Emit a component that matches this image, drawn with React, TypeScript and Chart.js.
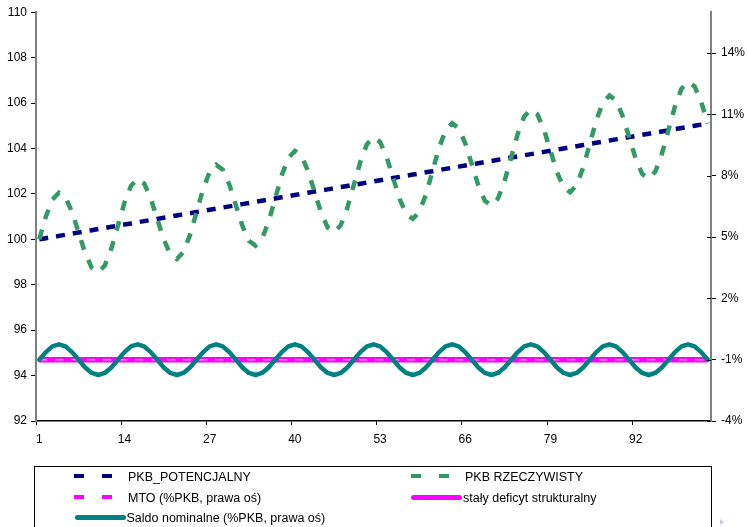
import React, { useEffect, useRef } from "react";
import { Chart, registerables } from "chart.js";

Chart.register(...registerables);

// ---------- DATA ----------
const categories = [
  1, 2, 3, 4, 5, 6, 7, 8, 9, 10,
  11, 12, 13, 14, 15, 16, 17, 18, 19, 20,
  21, 22, 23, 24, 25, 26, 27, 28, 29, 30,
  31, 32, 33, 34, 35, 36, 37, 38, 39, 40,
  41, 42, 43, 44, 45, 46, 47, 48, 49, 50,
  51, 52, 53, 54, 55, 56, 57, 58, 59, 60,
  61, 62, 63, 64, 65, 66, 67, 68, 69, 70,
  71, 72, 73, 74, 75, 76, 77, 78, 79, 80,
  81, 82, 83, 84, 85, 86, 87, 88, 89, 90,
  91, 92, 93, 94, 95, 96, 97, 98, 99, 100,
  101, 102, 103,
];
const xLabelEvery = 13;

const pkbPotencjalny = [
  100.0, 100.05, 100.1, 100.15, 100.2, 100.25, 100.3, 100.35, 100.4, 100.45,
  100.5, 100.55, 100.6, 100.65, 100.7, 100.75, 100.8, 100.85, 100.9, 100.95,
  101.0, 101.05, 101.1, 101.15, 101.2, 101.25, 101.3, 101.35, 101.4, 101.45,
  101.5, 101.55, 101.6, 101.65, 101.7, 101.75, 101.8, 101.85, 101.9, 101.95,
  102.0, 102.05, 102.1, 102.15, 102.2, 102.25, 102.3, 102.35, 102.4, 102.45,
  102.5, 102.55, 102.6, 102.65, 102.7, 102.75, 102.8, 102.85, 102.9, 102.95,
  103.0, 103.05, 103.1, 103.15, 103.2, 103.25, 103.3, 103.35, 103.4, 103.45,
  103.5, 103.55, 103.6, 103.65, 103.7, 103.75, 103.8, 103.85, 103.9, 103.95,
  104.0, 104.05, 104.1, 104.15, 104.2, 104.25, 104.3, 104.35, 104.4, 104.45,
  104.5, 104.55, 104.6, 104.65, 104.7, 104.75, 104.8, 104.85, 104.9, 104.95,
  105.0, 105.05, 105.1,
];

const pkbRzeczywisty = [
  100.0, 101.0, 101.75, 102.05, 101.85, 101.2, 100.3, 99.4, 98.75, 98.54,
  98.85, 99.59, 100.6, 101.61, 102.36, 102.66, 102.46, 101.81, 100.9, 99.99,
  99.34, 99.13, 99.44, 100.19, 101.2, 102.21, 102.97, 103.28, 103.07, 102.41,
  101.5, 100.59, 99.93, 99.72, 100.03, 100.78, 101.8, 102.82, 103.58, 103.89,
  103.68, 103.02, 102.1, 101.18, 100.52, 100.31, 100.62, 101.38, 102.4, 103.42,
  104.19, 104.5, 104.29, 103.63, 102.7, 101.77, 101.11, 100.9, 101.21, 101.97,
  103.0, 104.03, 104.8, 105.11, 104.9, 104.23, 103.3, 102.37, 101.7, 101.48,
  101.8, 102.57, 103.6, 104.64, 105.41, 105.72, 105.51, 104.84, 103.9, 102.96,
  102.29, 102.07, 102.39, 103.16, 104.2, 105.24, 106.02, 106.33, 106.12, 105.44,
  104.5, 103.56, 102.88, 102.66, 102.98, 103.76, 104.8, 105.85, 106.63, 106.94,
  106.73, 106.05, 105.1,
];

// right axis, % of GDP
const mto = [
  -1, -1, -1, -1, -1, -1, -1, -1, -1, -1,
  -1, -1, -1, -1, -1, -1, -1, -1, -1, -1,
  -1, -1, -1, -1, -1, -1, -1, -1, -1, -1,
  -1, -1, -1, -1, -1, -1, -1, -1, -1, -1,
  -1, -1, -1, -1, -1, -1, -1, -1, -1, -1,
  -1, -1, -1, -1, -1, -1, -1, -1, -1, -1,
  -1, -1, -1, -1, -1, -1, -1, -1, -1, -1,
  -1, -1, -1, -1, -1, -1, -1, -1, -1, -1,
  -1, -1, -1, -1, -1, -1, -1, -1, -1, -1,
  -1, -1, -1, -1, -1, -1, -1, -1, -1, -1,
  -1, -1, -1,
];

const stalyDeficyt = [
  -1, -1, -1, -1, -1, -1, -1, -1, -1, -1,
  -1, -1, -1, -1, -1, -1, -1, -1, -1, -1,
  -1, -1, -1, -1, -1, -1, -1, -1, -1, -1,
  -1, -1, -1, -1, -1, -1, -1, -1, -1, -1,
  -1, -1, -1, -1, -1, -1, -1, -1, -1, -1,
  -1, -1, -1, -1, -1, -1, -1, -1, -1, -1,
  -1, -1, -1, -1, -1, -1, -1, -1, -1, -1,
  -1, -1, -1, -1, -1, -1, -1, -1, -1, -1,
  -1, -1, -1, -1, -1, -1, -1, -1, -1, -1,
  -1, -1, -1, -1, -1, -1, -1, -1, -1, -1,
  -1, -1, -1,
];

const saldoNominalne = [
  -1, -0.63, -0.35, -0.25, -0.35, -0.63, -1, -1.38, -1.65, -1.75, -1.65, -1.38,
  -1, -0.63, -0.35, -0.25, -0.35, -0.63, -1, -1.38, -1.65, -1.75, -1.65, -1.38,
  -1, -0.63, -0.35, -0.25, -0.35, -0.63, -1, -1.38, -1.65, -1.75, -1.65, -1.38,
  -1, -0.63, -0.35, -0.25, -0.35, -0.63, -1, -1.38, -1.65, -1.75, -1.65, -1.38,
  -1, -0.63, -0.35, -0.25, -0.35, -0.63, -1, -1.38, -1.65, -1.75, -1.65, -1.38,
  -1, -0.63, -0.35, -0.25, -0.35, -0.63, -1, -1.38, -1.65, -1.75, -1.65, -1.38,
  -1, -0.63, -0.35, -0.25, -0.35, -0.63, -1, -1.38, -1.65, -1.75, -1.65, -1.38,
  -1, -0.63, -0.35, -0.25, -0.35, -0.63, -1, -1.38, -1.65, -1.75, -1.65, -1.38,
  -1, -0.63, -0.35, -0.25, -0.35, -0.63, -1,
];

const leftMin = 92;
const leftMax = 110;
const leftStep = 2;
const rightMin = -4;
const rightMax = 16;
const rightTickValues = [-4, -1, 2, 5, 8, 11, 14];

const seriesNames = [
  "PKB_POTENCJALNY",
  "PKB RZECZYWISTY",
  "MTO (%PKB, prawa oś)",
  "stały deficyt strukturalny",
  "Saldo nominalne (%PKB, prawa oś)",
];

// ---------- STYLE ----------
const FONT = '"Liberation Sans", Arial, Helvetica, sans-serif';
const C_NAVY = "#000080";
const C_GREEN = "#339966";
const C_MAGENTA = "#FF00FF";
const C_MTO = "#FF9CFF";
const C_TEAL = "#008080";
const C_AXIS = "#808080";

export default function App() {
  const ref = useRef<HTMLCanvasElement>(null);

  useEffect(() => {
    if (!ref.current) return;

    const crossTicks = {
      id: "crossTicks",
      afterDraw(chart: any) {
        const s = chart.scales.y2;
        const ctx = chart.ctx;
        const right = chart.chartArea.right;
        ctx.save();
        ctx.strokeStyle = "#000";
        ctx.lineWidth = 1;
        for (const t of s.ticks) {
          const y = Math.round(s.getPixelForValue(t.value)) + 0.5;
          ctx.beginPath();
          ctx.moveTo(right - 4, y);
          ctx.lineTo(right, y);
          ctx.stroke();
        }
        ctx.restore();
      },
    };

    const chart = new Chart(ref.current, {
      type: "line",
      data: {
        labels: categories.map(String),
        datasets: [
          {
            label: seriesNames[0],
            data: pkbPotencjalny,
            yAxisID: "y",
            borderColor: C_NAVY,
            backgroundColor: C_NAVY,
            borderWidth: 4.5,
            borderDash: [9, 8],
            pointRadius: 0,
            fill: false,
            order: 4,
          },
          {
            label: seriesNames[1],
            data: pkbRzeczywisty,
            yAxisID: "y",
            borderColor: C_GREEN,
            backgroundColor: C_GREEN,
            borderWidth: 4.5,
            borderDash: [10, 11],
            pointRadius: 0,
            fill: false,
            order: 3,
          },
          {
            label: seriesNames[2],
            data: mto,
            yAxisID: "y2",
            borderColor: C_MTO,
            backgroundColor: C_MTO,
            borderWidth: 1.5,
            borderDash: [8, 8],
            pointRadius: 0,
            fill: false,
            order: 1,
          },
          {
            label: seriesNames[3],
            data: stalyDeficyt,
            yAxisID: "y2",
            borderColor: C_MAGENTA,
            backgroundColor: C_MAGENTA,
            borderWidth: 5.5,
            pointRadius: 0,
            fill: false,
            order: 2,
          },
          {
            label: seriesNames[4],
            data: saldoNominalne,
            yAxisID: "y2",
            borderColor: C_TEAL,
            backgroundColor: C_TEAL,
            borderWidth: 4.5,
            borderJoinStyle: "round",
            borderCapStyle: "round",
            pointRadius: 0,
            fill: false,
            order: 0,
          },
        ],
      },
      options: {
        responsive: false,
        animation: false,
        devicePixelRatio: 1,
        layout: { padding: { top: 12, left: 0, right: 0, bottom: 0 } },
        plugins: {
          legend: { display: false },
          tooltip: { enabled: false },
          title: { display: false },
        },
        scales: {
          x: {
            type: "category",
            offset: true,
            grid: {
              offset: true,
              drawOnChartArea: false,
              tickLength: 4,
              lineWidth: 1,
              tickColor: (c: any) =>
                c.index % xLabelEvery === 0 ? "#000" : "rgba(0,0,0,0)",
            },
            border: { color: "#000", width: 1.5 },
            ticks: {
              autoSkip: false,
              maxRotation: 0,
              minRotation: 0,
              padding: 7,
              color: "#000",
              font: { family: FONT, size: 12 },
              callback: (_v: any, i: number) =>
                i % xLabelEvery === 0 ? String(categories[i]) : "",
            },
            afterFit: (s: any) => {
              s.height = 106;
            },
          },
          y: {
            position: "left",
            min: leftMin,
            max: leftMax,
            grid: {
              drawOnChartArea: false,
              tickLength: 5,
              tickColor: "#000",
            },
            border: { color: C_AXIS, width: 2 },
            ticks: {
              stepSize: leftStep,
              padding: 4,
              color: "#000",
              font: { family: FONT, size: 12 },
            },
            afterFit: (s: any) => {
              s.width = 36;
            },
          },
          y2: {
            position: "right",
            min: rightMin,
            max: rightMax,
            grid: {
              drawOnChartArea: false,
              tickLength: 5,
              tickColor: "#000",
            },
            border: { color: C_AXIS, width: 2 },
            afterBuildTicks: (s: any) => {
              s.ticks = rightTickValues.map((v) => ({ value: v }));
            },
            ticks: {
              padding: 5,
              color: "#000",
              font: { family: FONT, size: 12 },
              callback: (v: any) => `${v}%`,
            },
            afterFit: (s: any) => {
              s.width = 37;
            },
          },
        },
      },
      plugins: [crossTicks],
    } as any);

    return () => chart.destroy();
  }, []);

  const txt = (left: number, center: number, text: string) => (
    <div
      style={{
        position: "absolute",
        left,
        top: center - 8,
        height: 16,
        lineHeight: "16px",
        fontSize: 12.5,
        fontFamily: FONT,
        color: "#000",
        whiteSpace: "nowrap",
      }}
    >
      {text}
    </div>
  );
  const box = (left: number, top: number, w: number, h: number, color: string, radius = 0) => (
    <div
      style={{
        position: "absolute",
        left,
        top,
        width: w,
        height: h,
        background: color,
        borderRadius: radius,
      }}
    />
  );

  return (
    <div
      style={{
        position: "fixed",
        left: 0,
        top: 0,
        width: 748,
        height: 527,
        overflow: "hidden",
        background: "#fff",
      }}
    >
      <canvas
        ref={ref}
        width={748}
        height={527}
        style={{ position: "absolute", left: 0, top: 0, width: 748, height: 527 }}
      />
      {/* legend */}
      <div
        style={{
          position: "absolute",
          left: 34,
          top: 466,
          width: 678,
          height: 90,
          border: "1px solid #000",
          boxSizing: "border-box",
        }}
      />
      {box(74, 474, 10, 4, C_NAVY)}
      {box(102, 474, 10, 4, C_NAVY)}
      {txt(128, 477, seriesNames[0])}
      {box(411, 474, 10, 4, C_GREEN)}
      {box(439, 474, 10, 4, C_GREEN)}
      {txt(465, 477, seriesNames[1])}
      {box(74, 494.5, 10, 4.5, C_MAGENTA)}
      {box(102, 494.5, 10, 4.5, C_MAGENTA)}
      {txt(128, 497.5, seriesNames[2])}
      {box(411, 494.5, 51, 5, C_MAGENTA, 2.5)}
      {txt(463, 497.5, seriesNames[3])}
      {box(75, 515, 51, 5, C_TEAL, 2.5)}
      {txt(126.5, 518, seriesNames[4])}
      <div
        style={{
          position: "absolute",
          left: 720,
          top: 519,
          width: 0,
          height: 0,
          borderTop: "3px solid transparent",
          borderBottom: "3px solid transparent",
          borderLeft: "4px solid #C8C8E0",
        }}
      />
    </div>
  );
}
